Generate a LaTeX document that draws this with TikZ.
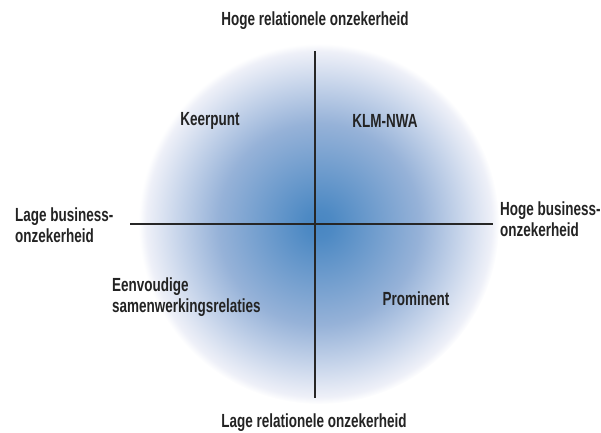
\documentclass[tikz,border=0pt]{standalone}
\usepackage{fontspec}
\setmainfont{Liberation Sans}[FakeStretch=0.71]
\definecolor{txt}{RGB}{35,35,35}
\definecolor{cblue}{RGB}{72,134,194}
\definecolor{cmid}{RGB}{150,178,216}
\definecolor{clight}{RGB}{198,212,234}
\definecolor{cedge}{RGB}{238,240,248}
\pgfdeclareradialshading{quadglow}{\pgfpoint{0bp}{0bp}}{%
  color(0bp)=(cblue); color(2bp)=(cblue!97!white); color(14bp)=(cmid); color(19.5bp)=(clight); color(24bp)=(cedge); color(25bp)=(white!97!cedge); color(50bp)=(white)}
\begin{document}
\begin{tikzpicture}[x=1pt,y=-1pt,
  lbl/.style={font=\bfseries\fontsize{19}{21}\selectfont, text=txt, inner sep=0pt},
  axis/.style={line width=2.6pt, draw=black!85}]
\useasboundingbox (0,0) rectangle (601,432);
\shade[shading=quadglow] (319,224) circle (180);
\coordinate (top) at (315,51);
\coordinate (bot) at (315,398);
\coordinate (lft) at (130,224);
\coordinate (rgt) at (493,224);
\draw[axis] (top) -- (bot);
\draw[axis] (lft) -- (rgt);
\node[lbl] (hr) at (315,21) {Hoge relationele onzekerheid};
\node[lbl] (lr) at (314,423) {Lage relationele onzekerheid};
\node[lbl, anchor=west, align=left] (lb) at (15,225) {Lage business-\\onzekerheid};
\node[lbl, anchor=west, align=left] (hb) at (500,219) {Hoge business-\\onzekerheid};
\node[lbl] (kp) at (210,121) {Keerpunt};
\node[lbl] (klm) at (385,121) {KLM-NWA};
\node[lbl, anchor=west, align=left] (ev) at (112,297) {Eenvoudige\\samenwerkingsrelaties};
\node[lbl] (pr) at (416,299) {Prominent};
\end{tikzpicture}
\end{document}
